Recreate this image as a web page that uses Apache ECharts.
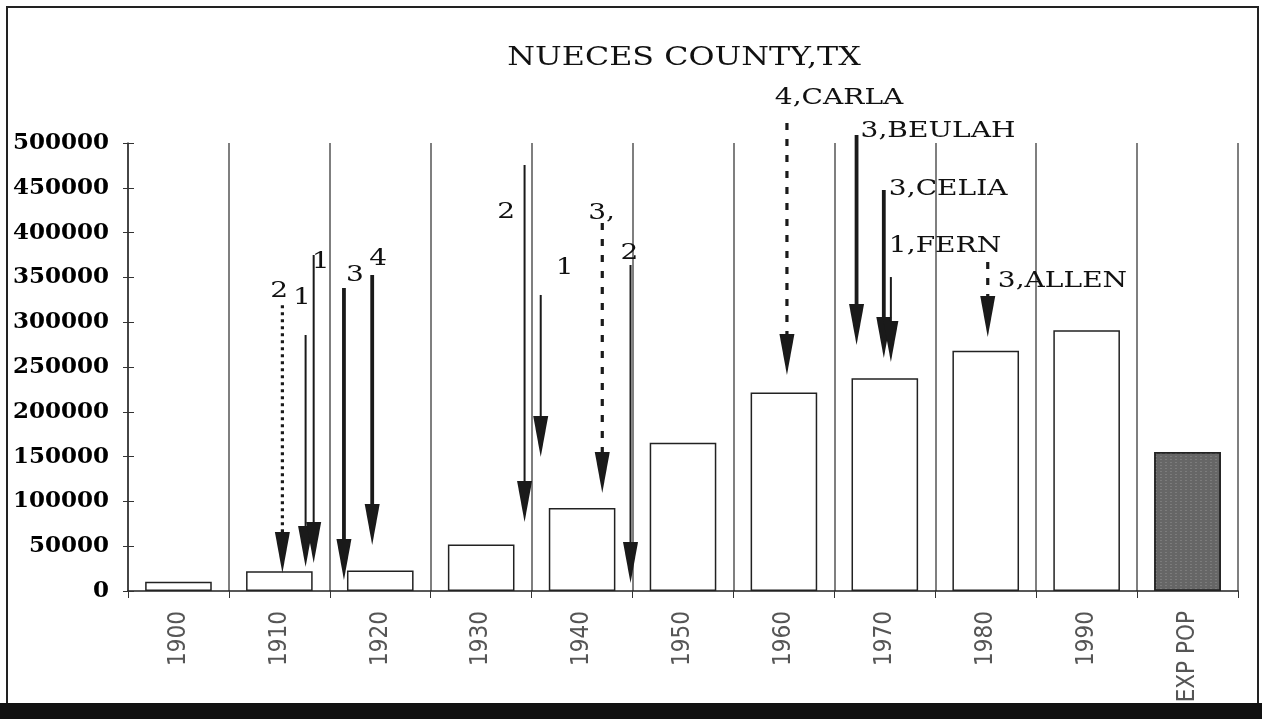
<!DOCTYPE html>
<html>
<head>
<meta charset="utf-8">
<script src="https://cdn.jsdelivr.net/npm/echarts@6/dist/echarts.min.js"></script>
<style>
  body { margin: 0; background: #fff; }
  #main { position: absolute; left: 0; top: 0; width: 1262px; height: 719px; }
  .frame { position: absolute; left: 6px; top: 6px; width: 1249px; height: 697px;
           border: 2px solid #222; border-bottom: none; pointer-events: none; }
  .band { position: absolute; left: 0; top: 703px; width: 1262px; height: 16px; background: #111; }
</style>
</head>
<body>
<div id="main"></div>
<div class="frame"></div>
<div class="band"></div>
<script>
// census decades + expected population
var categories = ['1900', '1910', '1920', '1930', '1940', '1950', '1960', '1970', '1980', '1990', 'EXP POP'];
var population = [10400, 22000, 22800, 51800, 92600, 165500, 221600, 237500, 268200, 291100, 155000];
var yTicks = [0, 500000, 50000];

// hurricane arrows (x in years, y in persons)
var arrowYear = [1910.3, 1912.6, 1913.4, 1916.4, 1919.2, 1934.3, 1935.9, 1942.0, 1944.8, 1960.3, 1967.2, 1969.9, 1970.6, 1980.2];
var arrowTop = [319000, 285700, 375000, 338200, 352700, 475400, 330400, 410700, 363800, 522300, 508900, 447500, 350400, 367200];
var arrowTip = [20000, 26800, 31250, 12300, 51300, 77000, 149600, 109400, 8900, 241000, 274600, 260000, 255600, 283500];
var arrowKind = ['dot', 'thin', 'thin', 'thick', 'thick', 'thin', 'thin', 'dash', 'thin', 'dash', 'thick', 'thick', 'thin', 'dash'];
var arrowLabel = ['2', '1', '1', '3', '4', '2', '1', '3,', '2', '4,CARLA', '3,BEULAH', '3,CELIA', '1,FERN', '3,ALLEN'];
var labelYear = [1909.1, 1911.35, 1913.2, 1916.6, 1918.9, 1931.6, 1937.4, 1940.6, 1943.8, 1959.1, 1967.6, 1970.4, 1970.4, 1981.2];
var labelValue = [334800, 327000, 367200, 352700, 370500, 423000, 360500, 421900, 377200, 550200, 513400, 448700, 385000, 346000];

var serif = "'DejaVu Serif', 'Liberation Serif', serif";

var arrowData = arrowYear.map(function (x, i) {
    return [x, arrowTop[i], arrowTip[i], labelYear[i], labelValue[i]];
});

var barData = population.map(function (v, i) {
    if (categories[i] === 'EXP POP') {
        return {
            value: v,
            itemStyle: {
                color: '#666',
                decal: {
                    symbol: 'rect',
                    symbolSize: 0.6,
                    dashArrayX: [2, 3],
                    dashArrayY: [1, 2],
                    rotation: 0,
                    color: 'rgba(225,225,225,0.6)'
                }
            }
        };
    }
    return v;
});

function renderArrow(params, api) {
    var i = params.dataIndex;
    var kind = arrowKind[i];
    var top = api.coord([api.value(0), api.value(1)]);
    var tip = api.coord([api.value(0), api.value(2)]);
    var lab = api.coord([api.value(3), api.value(4)]);
    var headL = 41, headW = 15;
    var shaft = {
        stroke: '#1a1a1a',
        lineWidth: kind === 'thick' ? 3.8 : (kind === 'thin' ? 2 : 3.2),
        lineDash: kind === 'dot' ? [3, 4] : (kind === 'dash' ? [7, 9] : null),
        lineCap: 'butt'
    };
    return {
        type: 'group',
        children: [
            {
                type: 'line',
                shape: { x1: top[0], y1: top[1], x2: tip[0], y2: tip[1] - headL + 4 },
                style: shaft
            },
            {
                type: 'polygon',
                shape: { points: [[tip[0] - headW / 2, tip[1] - headL], [tip[0] + headW / 2, tip[1] - headL], [tip[0], tip[1]]] },
                style: { fill: '#1a1a1a' }
            },
            {
                type: 'text',
                x: lab[0],
                y: lab[1],
                scaleX: 1.22,
                style: {
                    text: arrowLabel[i],
                    x: 0, y: 0,
                    font: '23px ' + serif,
                    fill: '#111',
                    align: 'left',
                    verticalAlign: 'middle'
                }
            }
        ]
    };
}

var chart = echarts.init(document.getElementById('main'));
var option = {
    backgroundColor: '#fff',
    animation: false,
    graphic: [{
        type: 'text',
        x: 684,
        y: 58,
        scaleX: 1.22,
        style: {
            text: 'NUECES COUNTY,TX',
            font: '26px ' + serif,
            fill: '#111',
            align: 'center',
            verticalAlign: 'middle'
        }
    }],
    grid: { left: 128, right: 24, top: 143, bottom: 128 },
    xAxis: [
        {
            type: 'category',
            data: categories,
            axisLine: { lineStyle: { color: '#222', width: 1.5 } },
            axisTick: { show: true, length: 7, lineStyle: { color: '#333' } },
            axisLabel: {
                rotate: 90,
                margin: 20,
                color: '#555',
                fontSize: 24,
                fontFamily: "'Liberation Sans Narrow', 'DejaVu Sans Condensed', sans-serif"
            },
            splitLine: { show: true, lineStyle: { color: '#555', width: 1.5 } }
        },
        {
            type: 'value',
            min: 1895,
            max: 2005,
            show: false
        }
    ],
    yAxis: [
        {
            type: 'value',
            min: yTicks[0],
            max: yTicks[1],
            interval: yTicks[2],
            axisLine: { show: true, lineStyle: { color: '#333', width: 1.5 } },
            axisTick: { show: true, length: 5, lineStyle: { color: '#333' } },
            axisLabel: {
                margin: 19,
                color: '#000',
                fontSize: 23,
                fontWeight: 'bold',
                fontFamily: serif,
                formatter: function (v) { return String(v); }
            },
            splitLine: { show: false }
        },
        {
            type: 'value',
            position: 'left',
            min: yTicks[0],
            max: yTicks[1],
            interval: yTicks[2],
            axisLine: { show: false },
            axisTick: { show: true, inside: true, length: 6, lineStyle: { color: '#333' } },
            axisLabel: { show: false },
            splitLine: { show: false }
        }
    ],
    series: [
        {
            type: 'bar',
            data: barData,
            barWidth: '66%',
            itemStyle: { color: '#fff', borderColor: '#222', borderWidth: 1.5 }
        },
        {
            type: 'custom',
            xAxisIndex: 1,
            yAxisIndex: 0,
            clip: false,
            z: 5,
            encode: { x: 0, y: [1, 2] },
            data: arrowData,
            renderItem: renderArrow
        }
    ]
};
chart.setOption(option);
</script>
</body>
</html>
